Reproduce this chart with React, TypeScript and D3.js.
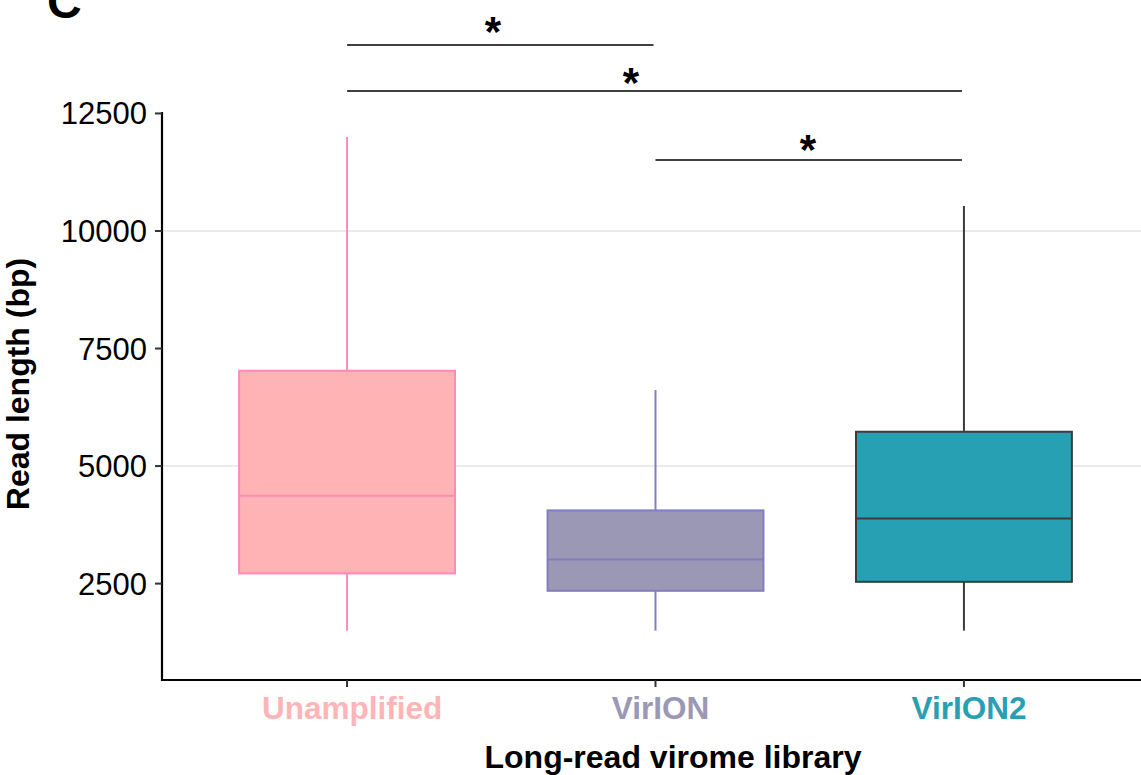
import React from "react";
import * as d3 from "d3";

const categories = ["Unamplified", "VirION", "VirION2"];
const whiskerLow = [1500, 1500, 1500];
const q1 = [2717, 2347, 2538];
const median = [4368, 3015, 3887];
const q3 = [7028, 4057, 5730];
const whiskerHigh = [12000, 6617, 10532];

const fillColors = ["#FFB3B4", "#9A98B4", "#28A0B4"];
const strokeColors = ["#FF8AB8", "#7F7FC0", "#3C3C3C"];
const labelColors = ["#FFB5B7", "#9A98B4", "#28A0B4"];

const yTicks = [2500, 5000, 7500, 10000, 12500];
const gridValues = [5000, 10000];

// significance comparisons: [from index, to index], bar level, star x (index units), star center level
const sigPairs: [number, number][] = [[0, 1], [0, 2], [1, 2]];
const sigLevels = [13957, 12979, 11511];
const starX = [0.473, 0.92, 1.494];
const starLevels = [14447, 13362, 11936];
const sigLabels = ["*", "*", "*"];

const W = 1141;
const H = 775;
const FONT = "'Liberation Sans', Arial, Helvetica, sans-serif";

export default function App() {
  const x = d3.scaleLinear().domain([-0.6, 2.6]).range([162, 1149]);
  const y = d3.scaleLinear().domain([450, 12520]).range([680, 112.5]);
  const boxHalf = (x(0.7) - x(0)) / 2;
  const starFs = 42;

  return (
    <svg
      width={W}
      height={H}
      style={{ position: "absolute", left: 0, top: 0, background: "#fff" }}
      fontFamily={FONT}
    >
      <rect x={0} y={0} width={W} height={H} fill="#fff" />
      {/* panel letter */}
      <text x={47} y={18} fontSize={48} fontWeight="bold" fill="#000">C</text>

      {/* grid */}
      {gridValues.map((v) => (
        <line key={v} x1={162} x2={1149} y1={y(v)} y2={y(v)} stroke="#EBEBEB" strokeWidth={2} />
      ))}

      {/* boxes */}
      {categories.map((c, i) => {
        const cx = x(i);
        return (
          <g key={c}>
            <line x1={cx} x2={cx} y1={y(whiskerHigh[i])} y2={y(q3[i])} stroke={strokeColors[i]} strokeWidth={2} />
            <line x1={cx} x2={cx} y1={y(q1[i])} y2={y(whiskerLow[i])} stroke={strokeColors[i]} strokeWidth={2} />
            <rect
              x={cx - boxHalf}
              y={y(q3[i])}
              width={boxHalf * 2}
              height={y(q1[i]) - y(q3[i])}
              fill={fillColors[i]}
              stroke={strokeColors[i]}
              strokeWidth={2}
            />
            <line x1={cx - boxHalf} x2={cx + boxHalf} y1={y(median[i])} y2={y(median[i])} stroke={strokeColors[i]} strokeWidth={2} />
          </g>
        );
      })}

      {/* significance bars */}
      {sigPairs.map(([a, b], k) => (
        <g key={k}>
          <line x1={x(a)} x2={x(b) - 2} y1={y(sigLevels[k])} y2={y(sigLevels[k])} stroke="#000" strokeWidth={1.5} />
          <text
            x={x(starX[k])}
            y={y(starLevels[k]) + 0.57 * starFs}
            fontSize={starFs}
            fontWeight="bold"
            textAnchor="middle"
            fill="#000"
          >
            {sigLabels[k]}
          </text>
        </g>
      ))}

      {/* y axis */}
      <line x1={162} x2={162} y1={112} y2={681} stroke="#000" strokeWidth={2.2} />
      {yTicks.map((t) => (
        <g key={t}>
          <line x1={155} x2={162} y1={y(t)} y2={y(t)} stroke="#333" strokeWidth={2} />
          <text x={147} y={y(t) + 11} fontSize={31} textAnchor="end" fill="#000">
            {t}
          </text>
        </g>
      ))}

      {/* x axis */}
      <line x1={161} x2={1149} y1={680} y2={680} stroke="#000" strokeWidth={2.2} />
      {categories.map((c, i) => (
        <g key={c}>
          <line x1={x(i)} x2={x(i)} y1={680} y2={687} stroke="#333" strokeWidth={2} />
          <text x={x(i) + 5} y={719} fontSize={31.5} fontWeight="bold" textAnchor="middle" fill={labelColors[i]}>
            {c}
          </text>
        </g>
      ))}

      {/* axis titles */}
      <text x={673} y={768} fontSize={32} fontWeight="bold" textAnchor="middle" fill="#000">
        Long-read virome library
      </text>
      <text
        transform={`translate(29, ${384}) rotate(-90)`}
        fontSize={32}
        fontWeight="bold"
        textAnchor="middle"
        fill="#000"
      >
        Read length (bp)
      </text>
    </svg>
  );
}
